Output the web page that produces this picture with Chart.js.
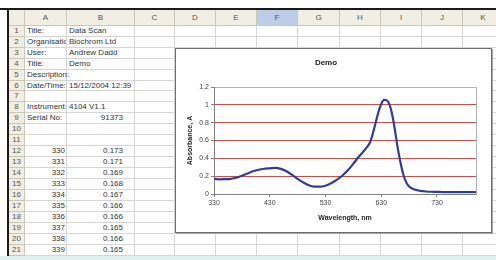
<!DOCTYPE html>
<html>
<head>
<meta charset="utf-8">
<script src="https://cdn.jsdelivr.net/npm/chart.js@4.4.1/dist/chart.umd.min.js"></script>
<style>
  html, body { margin: 0; padding: 0; background: #fff; }
  body { width: 496px; height: 260px; position: relative; overflow: hidden; font-family: "Liberation Sans", Arial, sans-serif; }
  .cell { position: absolute; box-sizing: border-box; border-right: 1px solid #d4d4d4; border-bottom: 1px solid #d4d4d4;
          font-size: 8px; color: #333; white-space: nowrap; overflow: hidden; padding: 0 2px; background: #fff; }
  .head { background: #f1efe3; color: #555; text-align: center; border-right: 1px solid #cbc7b3; border-bottom: 1px solid #cbc7b3; }
  .sel { background: #bccde9; }
  .num { text-align: right; }
  #frameTop { position: absolute; left: 0; top: 8px; width: 496px; height: 2px; background: #1a1a1a; }
  #frameLeft { position: absolute; left: 7px; top: 8px; width: 2px; height: 250px; background: #1a1a1a; }
  #strip { position: absolute; left: 0; top: 256px; width: 496px; height: 4px; background: #e0f0ee; }
  #chartBox { position: absolute; left: 175px; top: 48px; width: 317px; height: 185px; box-sizing: border-box;
              border: 1px solid #6e6e6e; box-shadow: 1px 1px 0 #a8a8a8; background: #fff; }
  #chartBox div { position: relative; width: 315px; height: 183px; }
</style>
</head>
<body>
<div id="sheet"></div>
<div id="frameTop"></div>
<div id="frameLeft"></div>
<div id="strip"></div>
<div id="chartBox"><div><canvas id="specChart"></canvas></div></div>

<script>
// spreadsheet contents
const infoLabels = ["Title:", "Organisation:", "User:", "Title:", "Description:", "Date/Time:", "", "Instrument:", "Serial No:"];
const infoValues = ["Data Scan", "Biochrom Ltd", "Andrew Dadd", "Demo", "", "15/12/2004 12:39", "", "4104 V1.1", "91373"];
const tableWl = [330, 331, 332, 333, 334, 335, 336, 337, 338, 339];
const tableAbs = ["0.173", "0.171", "0.169", "0.168", "0.167", "0.166", "0.166", "0.165", "0.166", "0.165"];

// spectrum
const wavelengths = [330, 331, 332, 333, 334, 335, 336, 337, 338, 339,
  350, 360, 370, 380, 390, 400, 410, 420, 430, 440, 450, 460, 470, 480, 490,
  500, 510, 520, 530, 540, 550, 560, 570, 580, 590, 600, 605, 610, 615, 620,
  625, 630, 635, 640, 645, 650, 655, 660, 665, 670, 675, 680, 690, 700, 710,
  720, 730, 740, 750, 760, 770, 780, 790, 800];
const absorbance = [0.173, 0.171, 0.169, 0.168, 0.167, 0.166, 0.166, 0.165, 0.166, 0.165,
  0.166, 0.170, 0.182, 0.205, 0.230, 0.255, 0.272, 0.283, 0.288, 0.294, 0.282, 0.255, 0.215, 0.170, 0.130,
  0.098, 0.083, 0.082, 0.093, 0.120, 0.158, 0.205, 0.265, 0.340, 0.420, 0.490, 0.530, 0.580, 0.680, 0.800,
  0.920, 1.010, 1.055, 1.050, 1.000, 0.880, 0.700, 0.500, 0.340, 0.210, 0.130, 0.085, 0.050, 0.035, 0.028,
  0.025, 0.024, 0.022, 0.022, 0.021, 0.020, 0.021, 0.020, 0.020];
const xTickLabels = [330, 430, 530, 630, 730];

(function () {
  var sheet = document.getElementById("sheet");
  var colEdges = [9, 25, 67, 135, 175, 216, 257, 298, 340, 381, 422, 463, 504];
  var colNames = ["A", "B", "C", "D", "E", "F", "G", "H", "I", "J", "K"];
  var headTop = 10, rowTop0 = 25.8, rowH = 10.95, nRows = 21;

  function rowTop(i) { return Math.round(rowTop0 + i * rowH); }

  function addCell(x0, x1, y0, y1, text, cls, overflow) {
    var d = document.createElement("div");
    d.className = "cell " + (cls || "");
    d.style.left = x0 + "px";
    d.style.top = y0 + "px";
    d.style.width = (x1 - x0) + "px";
    d.style.height = (y1 - y0) + "px";
    d.style.lineHeight = (y1 - y0 - 1) + "px";
    if (overflow) d.style.overflow = "visible";
    d.textContent = text;
    sheet.appendChild(d);
    return d;
  }

  // column headers
  addCell(colEdges[0], colEdges[1], headTop, rowTop(0), "", "head");
  for (let c = 0; c < colNames.length; c++) {
    addCell(colEdges[c + 1], colEdges[c + 2], headTop, rowTop(0), colNames[c], colNames[c] === "F" ? "head sel" : "head");
  }

  for (let r = 0; r < nRows; r++) {
    let y0 = rowTop(r), y1 = rowTop(r + 1);
    addCell(colEdges[0], colEdges[1], y0, y1, String(r + 1), "head");
    // empty cells first (right to left so overflow text stays on top)
    for (let c = colNames.length - 1; c >= 2; c--) {
      addCell(colEdges[c + 1], colEdges[c + 2], y0, y1, "");
    }
    let a = "", b = "", aCls = "", bCls = "";
    if (r < infoLabels.length) {
      a = infoLabels[r];
      b = infoValues[r];
      if (/^\d+$/.test(b)) bCls = "num";
    } else if (r >= 11 && r - 11 < tableWl.length) {
      a = String(tableWl[r - 11]);
      b = tableAbs[r - 11];
      aCls = "num";
      bCls = "num";
    }
    let bCell = addCell(colEdges[2], colEdges[3], y0, y1, b, bCls);
    if (bCls === "num") bCell.style.paddingRight = "11px";
    let aCell = addCell(colEdges[1], colEdges[2], y0, y1, a, aCls, b === "" && a !== "");
    if (b === "" && a !== "") aCell.style.background = "transparent";
    if (aCls === "num") aCell.style.paddingRight = "1px";
  }
})();

// plot area right border, like the Excel plot frame
var plotFrame = {
  id: "plotFrame",
  beforeDatasetsDraw: function (chart) {
    var a = chart.chartArea, ctx = chart.ctx;
    ctx.save();
    ctx.strokeStyle = "#b4b4b4";
    ctx.lineWidth = 1;
    ctx.beginPath();
    ctx.moveTo(Math.round(a.right) + 0.5, a.top);
    ctx.lineTo(Math.round(a.right) + 0.5, a.bottom);
    ctx.stroke();
    ctx.restore();
  }
};

var tickFont = { family: "'Liberation Sans', Arial, sans-serif", size: 7 };
var titleFont = { family: "'Liberation Sans', Arial, sans-serif", size: 7, weight: "bold" };

var specChart = new Chart(document.getElementById("specChart").getContext("2d"), {
  type: "line",
  data: {
    datasets: [{
      data: wavelengths.map((w, i) => ({ x: w, y: absorbance[i] })),
      borderColor: "#2f3d92",
      borderWidth: 2.2,
      pointRadius: 0,
      cubicInterpolationMode: "monotone",
      fill: false
    }]
  },
  options: {
    responsive: true,
    maintainAspectRatio: false,
    animation: false,
    devicePixelRatio: 1,
    layout: { padding: { left: 0, right: 15, top: 0, bottom: 0 } },
    plugins: {
      legend: { display: false },
      tooltip: { enabled: false },
      title: {
        display: true,
        text: "Demo",
        color: "#222",
        font: { family: "'Liberation Sans', Arial, sans-serif", size: 8, weight: "bold" },
        padding: { top: 9, bottom: 19.4 }
      }
    },
    scales: {
      x: {
        type: "linear",
        min: 330,
        max: 800,
        afterBuildTicks: function (scale) {
          scale.ticks = xTickLabels.map(v => ({ value: v }));
        },
        afterFit: function (scale) { scale.height = 38; },
        ticks: { font: tickFont, color: "#444", padding: 2, maxRotation: 0, autoSkip: false,
                 callback: function (v) { return String(v); } },
        grid: { drawOnChartArea: false, drawTicks: true, tickLength: 3, tickColor: "#808080" },
        border: { display: true, color: "#808080", width: 1 },
        title: { display: true, text: "Wavelength, nm", color: "#222", font: titleFont, padding: { top: 0, bottom: 9.3 } }
      },
      y: {
        min: 0,
        max: 1.2,
        afterFit: function (scale) { scale.width = 38; },
        ticks: { stepSize: 0.2, font: tickFont, color: "#444", padding: 2,
                 callback: function (v) { return String(Number(v.toFixed(1))); } },
        grid: {
          color: function (ctx) {
            if (!ctx.tick) return "transparent";
            if (ctx.tick.value === 0) return "transparent";
            if (Math.abs(ctx.tick.value - 1.2) < 1e-6) return "#b4b4b4";
            return "#c4504c";
          },
          lineWidth: 1,
          tickLength: 3,
          tickColor: "#808080"
        },
        border: { display: true, color: "#808080", width: 1 },
        title: { display: true, text: "Absorbance, A", color: "#222", font: titleFont, padding: { top: 10, bottom: 0 } }
      }
    }
  },
  plugins: [plotFrame]
});
</script>
</body>
</html>
